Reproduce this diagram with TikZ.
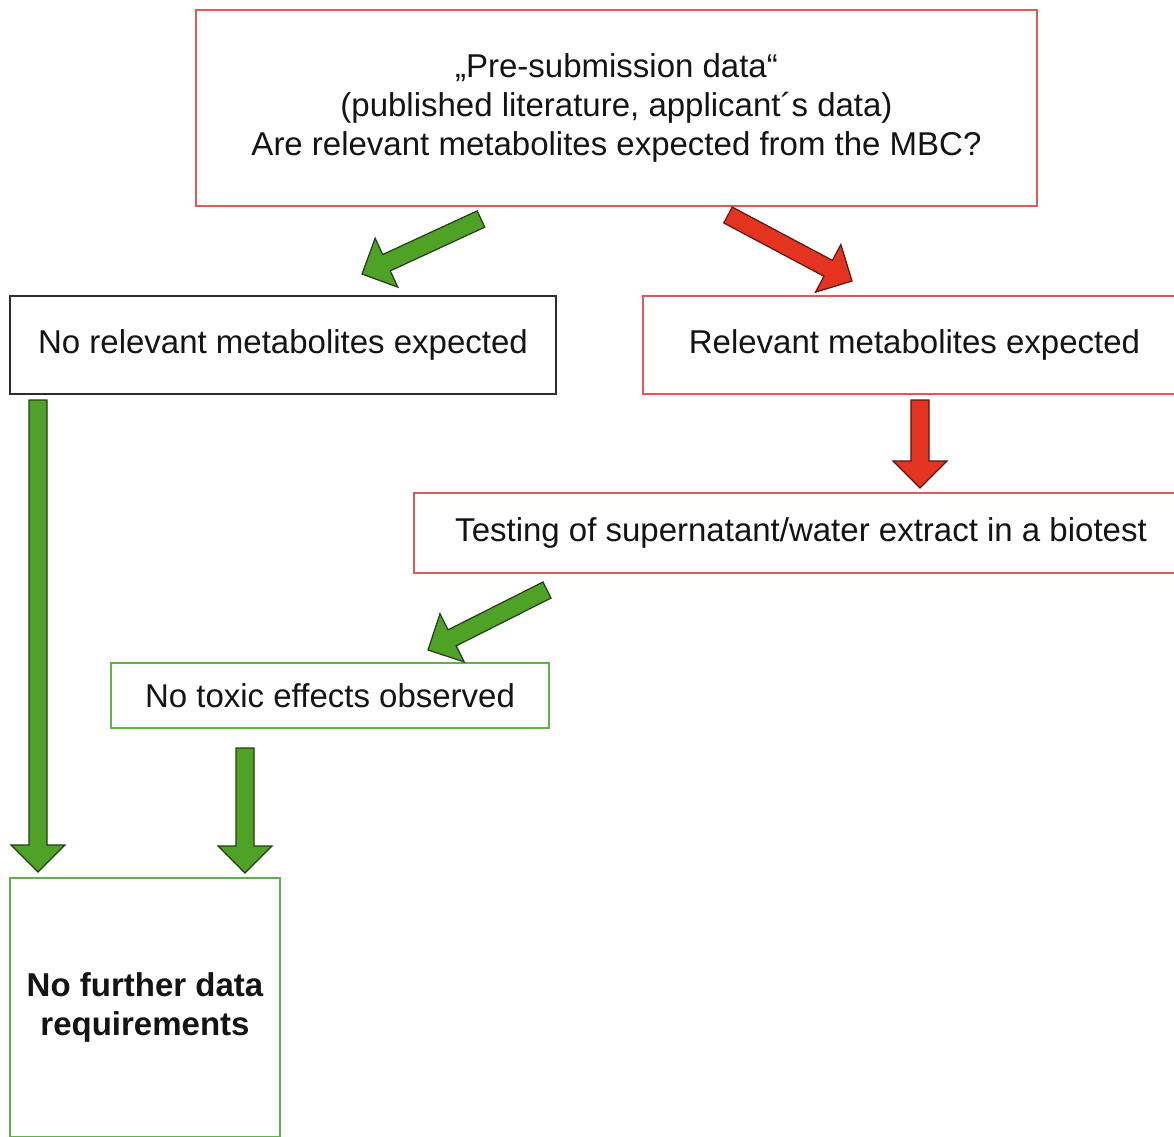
\documentclass[tikz,border=0pt]{standalone}
\usepackage{fontspec}
\setmainfont{Liberation Sans}
\usetikzlibrary{calc}
\definecolor{boxred}{RGB}{224,88,88}
\definecolor{boxgreen}{RGB}{96,176,76}
\definecolor{boxblack}{RGB}{45,45,45}
\definecolor{txt}{RGB}{20,20,20}
\definecolor{arrgreen}{RGB}{78,162,38}
\definecolor{arrgreenline}{RGB}{38,60,22}
\definecolor{arrred}{RGB}{228,52,32}
\definecolor{arrredline}{RGB}{90,22,12}
\tikzset{
  box/.style={draw, line width=1.5pt, inner sep=0pt, align=center, text=txt,
    font=\fontsize{33}{39}\selectfont},
  greenarrow/.style={fill=arrgreen, draw=arrgreenline, line width=1.2pt, line join=miter},
  redarrow/.style={fill=arrred, draw=arrredline, line width=1.2pt, line join=miter},
}
% block arrow from coordinate #1 to coordinate #2, style #3
\newcommand\blockarrow[3]{%
  \coordinate (#1h) at ($(#2)!27pt!(#1)$);
  \filldraw[#3] ($(#1)!9pt!90:(#2)$) -- ($(#1h)!9pt!-90:(#1)$) -- ($(#1h)!27pt!-90:(#1)$)
    -- (#2) -- ($(#1h)!27pt!90:(#1)$) -- ($(#1h)!9pt!90:(#1)$) -- ($(#1)!9pt!-90:(#2)$) -- cycle;}
\begin{document}
\begin{tikzpicture}[x=1pt, y=-1pt]
\useasboundingbox (0,0) rectangle (1174,1136);
\clip (0,0) rectangle (1174,1136);
\fill[white] (0,0) rectangle (1174,1136);

\node[box, draw=boxred, minimum width=841pt, minimum height=196pt] (top) at (616.5,108)
  {„Pre-submission data“\\(published literature, applicant´s data)\\Are relevant metabolites expected from the MBC?};
\node[box, draw=boxblack, minimum width=546pt, minimum height=98pt] (nore) at (283,345)
  {No relevant metabolites expected};
\node[box, draw=boxred, minimum width=543pt, minimum height=98pt] (rel) at (914.5,345)
  {Relevant metabolites expected};
\node[box, draw=boxred, minimum width=774pt, minimum height=80pt] (test) at (801,533)
  {Testing of supernatant/water extract in a biotest};
\node[box, draw=boxgreen, minimum width=438pt, minimum height=65pt] (notox) at (330,695.5)
  {No toxic effects observed};
\node[box, draw=boxgreen, minimum width=270pt, minimum height=259pt, font=\fontsize{33}{39}\selectfont\bfseries] (final) at (145,1007.5)
  {No further data\\requirements};

\coordinate (a1s) at (481,219);  \coordinate (a1e) at (362,274);
\coordinate (a2s) at (728,215);  \coordinate (a2e) at (852,281);
\coordinate (a3s) at (920,400);  \coordinate (a3e) at (920,488);
\coordinate (a4s) at (547,590);  \coordinate (a4e) at (428,650);
\coordinate (a5s) at (38,400);   \coordinate (a5e) at (38,872);
\coordinate (a6s) at (245,748);  \coordinate (a6e) at (245,873);

\blockarrow{a1s}{a1e}{greenarrow}
\blockarrow{a2s}{a2e}{redarrow}
\blockarrow{a3s}{a3e}{redarrow}
\blockarrow{a4s}{a4e}{greenarrow}
\blockarrow{a5s}{a5e}{greenarrow}
\blockarrow{a6s}{a6e}{greenarrow}
\end{tikzpicture}
\end{document}
